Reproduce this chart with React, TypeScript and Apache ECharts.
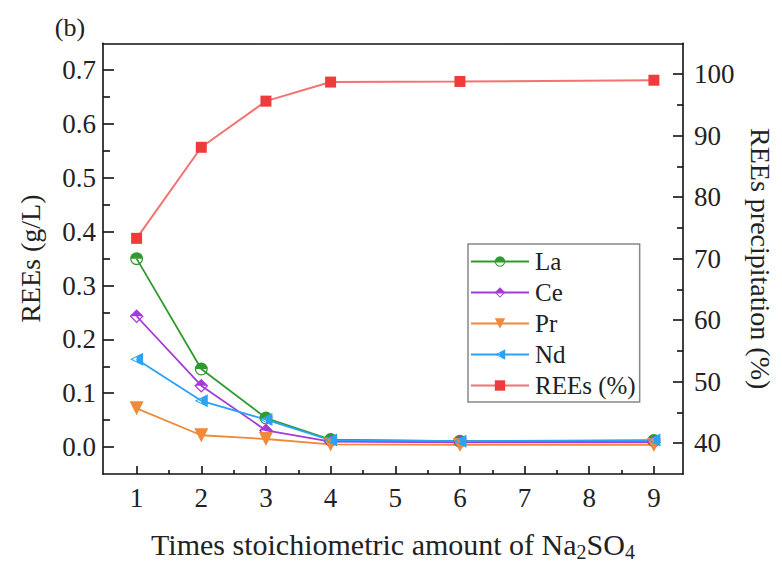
import React, { useEffect, useRef } from "react";
import * as echarts from "echarts";

const xValues = [1, 2, 3, 4, 6, 9];
const laValues = [0.35, 0.145, 0.054, 0.014, 0.011, 0.012];
const ceValues = [0.243, 0.114, 0.031, 0.01, 0.009, 0.009];
const prValues = [0.072, 0.022, 0.015, 0.005, 0.004, 0.004];
const ndValues = [0.163, 0.086, 0.051, 0.013, 0.011, 0.013];
const reePctValues = [73.3, 88.1, 95.6, 98.7, 98.8, 99.0];

const xTicks = [1, 2, 3, 4, 5, 6, 7, 8, 9];
const xMinorTicks = [1.5, 2.5, 3.5, 4.5, 5.5, 6.5, 7.5, 8.5];
const leftTicks = [0, 0.1, 0.2, 0.3, 0.4, 0.5, 0.6, 0.7];
const leftMinorTicks = [0.05, 0.15, 0.25, 0.35, 0.45, 0.55, 0.65];
const rightTicks = [40, 50, 60, 70, 80, 90, 100];
const rightMinorTicks = [45, 55, 65, 75, 85, 95];

const FONT = "Liberation Serif";
const TXT = "#222";

const circleHalf =
  "path://M-10,0 A10,10 0 0 1 10,0 Z M-10,0 A10,10 0 0 0 10,0 L8,0 A8,8 0 0 1 -8,0 Z";
const diamondHalf =
  "path://M-10,0 L0,-10 L10,0 Z M-10,0 L0,10 L10,0 L7.5,0 L0,7.5 L-7.5,0 Z";
const leftTriHalf =
  "path://M0,-5 L9,-10 L9,10 L0,5 Z M-9,0 L0,-5 L0,-3.4 L-5.8,0 L0,3.4 L0,5 Z";

const pairs = (ys: number[]) => xValues.map((x, i) => [x, ys[i]]);

export default function App() {
  const ref = useRef<HTMLDivElement>(null);
  useEffect(() => {
    if (!ref.current) return;
    const chart = echarts.init(ref.current, undefined, { renderer: "svg" });
    const axisLine = { show: true, onZero: false, lineStyle: { color: "#111", width: 1.6 } };
    const tickStyle = { color: "#111", width: 1.6 };
    const labelStyle = { color: TXT, fontFamily: FONT, fontSize: 27 };
    const X_MIN = 0.48;
    const X_MAX = 9.45;
    const option: any = {
      animation: false,
      backgroundColor: "#fff",
      graphic: [
        {
          type: "text",
          x: 62,
          y: 19,
          style: {
            text: "(b)",
            fontFamily: FONT,
            fontSize: 26,
            fill: TXT,
            align: "center",
            verticalAlign: "middle",
          },
        },
      ],
      grid: { left: 94, right: 95, top: 35.3, bottom: 89, containLabel: false },
      legend: {
        orient: "vertical",
        left: 460,
        top: 236,
        padding: [5, 4, 4, 2],
        itemGap: 6,
        itemWidth: 58,
        itemHeight: 13,
        borderColor: "#888",
        borderWidth: 1.5,
        textStyle: { fontFamily: FONT, fontSize: 25, color: TXT, padding: [0, 0, 0, 1] },
        data: ["La", "Ce", "Pr", "Nd", "REEs (%)"],
      },
      xAxis: [
        {
          type: "value",
          min: X_MIN,
          max: X_MAX,
          position: "bottom",
          axisLine,
          axisTick: { show: true, inside: true, length: 8, lineStyle: tickStyle, customValues: xTicks },
          axisLabel: { ...labelStyle, margin: 10, customValues: xTicks },
          splitLine: { show: false },
          name: "Times stoichiometric amount of Na{sub|2}SO{sub|4}",
          nameLocation: "middle",
          nameGap: 53,
          nameTextStyle: {
            color: TXT,
            fontFamily: FONT,
            fontSize: 30,
            rich: {
              sub: { fontFamily: FONT, fontSize: 20, color: TXT, padding: [15, 0, 0, 0] },
            },
          },
        },
        {
          type: "value",
          min: X_MIN,
          max: X_MAX,
          position: "bottom",
          axisLine: { show: false, onZero: false },
          axisTick: { show: true, inside: true, length: 4, lineStyle: tickStyle, customValues: xMinorTicks },
          axisLabel: { show: false },
          splitLine: { show: false },
        },
        {
          type: "value",
          min: X_MIN,
          max: X_MAX,
          position: "top",
          axisLine,
          axisTick: { show: false },
          axisLabel: { show: false },
          splitLine: { show: false },
        },
      ],
      yAxis: [
        {
          type: "value",
          min: -0.05,
          max: 0.75,
          position: "left",
          axisLine,
          axisTick: { show: true, inside: true, length: 11, lineStyle: tickStyle, customValues: leftTicks },
          axisLabel: {
            ...labelStyle,
            margin: 7,
            customValues: leftTicks,
            formatter: (v: number) => v.toFixed(1),
          },
          splitLine: { show: false },
          name: "REEs (g/L)",
          nameLocation: "middle",
          nameGap: 59,
          nameTextStyle: { color: TXT, fontFamily: FONT, fontSize: 28 },
        },
        {
          type: "value",
          min: -0.05,
          max: 0.75,
          position: "left",
          axisLine: { show: false, onZero: false },
          axisTick: { show: true, inside: true, length: 7, lineStyle: tickStyle, customValues: leftMinorTicks },
          axisLabel: { show: false },
          splitLine: { show: false },
        },
        {
          type: "value",
          min: 35,
          max: 105,
          position: "right",
          axisLine,
          axisTick: { show: true, inside: true, length: 10, lineStyle: tickStyle, customValues: rightTicks },
          axisLabel: { ...labelStyle, margin: 11, customValues: rightTicks },
          splitLine: { show: false },
          name: "REEs precipitation (%)",
          nameLocation: "middle",
          nameGap: 63,
          nameRotate: -90,
          nameTextStyle: { color: TXT, fontFamily: FONT, fontSize: 28 },
        },
        {
          type: "value",
          min: 35,
          max: 105,
          position: "right",
          axisLine: { show: false, onZero: false },
          axisTick: { show: true, inside: true, length: 6, lineStyle: tickStyle, customValues: rightMinorTicks },
          axisLabel: { show: false },
          splitLine: { show: false },
        },
      ],
      series: [
        {
          name: "La",
          type: "line",
          xAxisIndex: 0,
          yAxisIndex: 0,
          data: pairs(laValues),
          symbol: circleHalf,
          symbolSize: 13,
          lineStyle: { color: "#2f9a2f", width: 1.8 },
          itemStyle: { color: "#2f9a2f" },
        },
        {
          name: "Ce",
          type: "line",
          xAxisIndex: 0,
          yAxisIndex: 0,
          data: pairs(ceValues),
          symbol: diamondHalf,
          symbolSize: 14,
          lineStyle: { color: "#a43ad8", width: 1.8 },
          itemStyle: { color: "#a43ad8" },
        },
        {
          name: "Pr",
          type: "line",
          xAxisIndex: 0,
          yAxisIndex: 0,
          data: pairs(prValues),
          symbol: "triangle",
          symbolRotate: 180,
          symbolSize: 14,
          lineStyle: { color: "#f0893a", width: 1.8 },
          itemStyle: { color: "#f0893a" },
        },
        {
          name: "Nd",
          type: "line",
          xAxisIndex: 0,
          yAxisIndex: 0,
          data: pairs(ndValues),
          symbol: leftTriHalf,
          symbolSize: 13,
          lineStyle: { color: "#2aa3f4", width: 1.8 },
          itemStyle: { color: "#2aa3f4" },
        },
        {
          name: "REEs (%)",
          type: "line",
          xAxisIndex: 0,
          yAxisIndex: 2,
          data: pairs(reePctValues),
          symbol: "rect",
          symbolSize: 11,
          lineStyle: { color: "#f47272", width: 2 },
          itemStyle: { color: "#ef3b3b" },
        },
      ],
    };
    chart.setOption(option);
    return () => chart.dispose();
  }, []);
  return <div ref={ref} style={{ width: 774, height: 559 }} />;
}
